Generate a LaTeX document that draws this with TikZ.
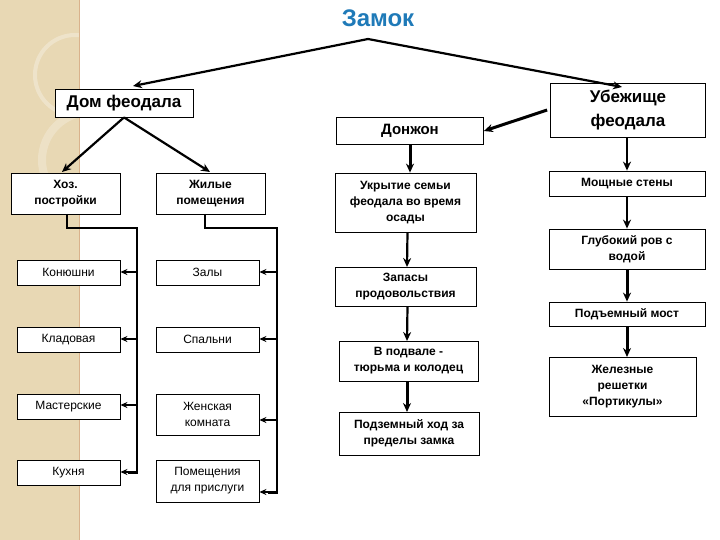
\documentclass[tikz,border=0pt]{standalone}
\usepackage{fontspec}
\setmainfont{Liberation Sans}
\usetikzlibrary{arrows.meta}
\definecolor{strip}{RGB}{232,216,180}
\definecolor{ttl}{RGB}{31,122,184}
\begin{document}
\begin{tikzpicture}[x=1pt,y=-1pt,
 bx/.style={draw,line width=0.8pt,fill=white,inner sep=0pt,align=center,font=\fontsize{12}{16}\selectfont},
 bb/.style={bx,font=\fontsize{12}{16}\selectfont\bfseries},
 ar/.style={line width=2.2pt,-{Stealth[length=9pt,width=8pt]}},
 bus/.style={line width=2.4pt},
 br/.style={line width=2.4pt,-{Stealth[length=7pt,width=6pt]}}]
\useasboundingbox (0,0) rectangle (720,540);
\fill[strip] (0,0) rectangle (79,540);
\draw[white,opacity=0.3,line width=4pt] (75,75) circle (40);
\draw[white,opacity=0.25,line width=8pt] (90,160) circle (48);
\draw[brown!60,line width=0.8pt] (79,0) -- (79,540);
\node[font=\fontsize{24}{28}\selectfont\bfseries,text=ttl] (t) at (378,18) {Замок};
\coordinate (apex) at (368,39);
\node[bx,minimum width=138,minimum height=28,font=\fontsize{17}{20}\selectfont\bfseries] (dom) at (124,103) {Дом феодала};
\node[bx,minimum width=155,minimum height=54,font=\fontsize{17}{24}\selectfont\bfseries] (ub) at (628,110) {Убежище\\феодала};
\node[bx,minimum width=147,minimum height=27,font=\fontsize{15}{18}\selectfont\bfseries] (don) at (410,131) {Донжон};
\draw[ar] (apex) -- (133,86);
\draw[ar] (apex) -- (622,87);
\draw[ar,line width=3pt] (ub.west) ++(-3,0) -- (don.east);
\draw[ar] (dom.south) -- (62,172);
\draw[ar] (dom.south) -- (210,172);
% left
\node[bb,minimum width=109,minimum height=41] (hoz) at (65.5,193.5) {Хоз.\\постройки};
\node[bb,minimum width=109,minimum height=41] (zhil) at (210.5,193.5) {Жилые\\помещения};
\foreach \n/\t/\y in {k1/Конюшни/272.5,k2/Кладовая/339.5,k3/Мастерские/406.5,k4/Кухня/472.5}
 \node[bx,minimum width=103,minimum height=25] (\n) at (68.5,\y) {\t};
\node[bx,minimum width=103,minimum height=25] (z1) at (207.5,272.5) {Залы};
\node[bx,minimum width=103,minimum height=25] (z2) at (207.5,339.5) {Спальни};
\node[bx,minimum width=103,minimum height=41] (z3) at (207.5,414.5) {Женская\\комната};
\node[bx,minimum width=103,minimum height=42] (z4) at (207.5,481) {Помещения\\для прислуги};
\draw[bus] (67,214) -- (67,228) -- (137,228) -- (137,473) -- (128,473);
\draw[bus] (205,214) -- (205,228) -- (277,228) -- (277,493) -- (268,493);
\foreach \n/\y in {k1/272,k2/339,k3/405,k4/472} \draw[br] (137,\y) -- (\n.east|-0,\y);
\foreach \n/\y in {z1/272,z2/339,z3/420,z4/492} \draw[br] (277,\y) -- (\n.east|-0,\y);
% middle
\node[bb,minimum width=141,minimum height=59] (u) at (405.5,202.5) {Укрытие семьи\\феодала во время\\осады};
\node[bb,minimum width=141,minimum height=39] (zap) at (405.5,286.5) {Запасы\\продовольствия};
\node[bb,minimum width=139,minimum height=40] (pod) at (408.5,361) {В подвале -\\тюрьма и колодец};
\node[bb,minimum width=140,minimum height=43] (hod) at (409,433.5) {Подземный ход за\\пределы замка};
\draw[ar,line width=3pt] (don.south) -- (u.north -| don.south);
\draw[ar] (u.south) ++(2,0) -- (407,267);
\draw[ar] (zap.south) ++(2,0) -- (407,341);
\draw[ar,line width=3pt] (407,381) -- (407,412);
% right
\node[bb,minimum width=156,minimum height=25] (m1) at (627,183.5) {Мощные стены};
\node[bb,minimum width=156,minimum height=40] (m2) at (627,249) {Глубокий ров с\\водой};
\node[bb,minimum width=156,minimum height=24] (m3) at (627,314) {Подъемный мост};
\node[bb,minimum width=147,minimum height=59] (m4) at (622.5,386.5) {Железные\\решетки\\«Портикулы»};
\draw[ar] (627,138) -- (m1.north);
\draw[ar] (m1.south) -- (m2.north);
\draw[ar,line width=3pt] (m2.south) -- (m3.north);
\draw[ar,line width=3pt] (627,326) -- (627,357);
\end{tikzpicture}
\end{document}
